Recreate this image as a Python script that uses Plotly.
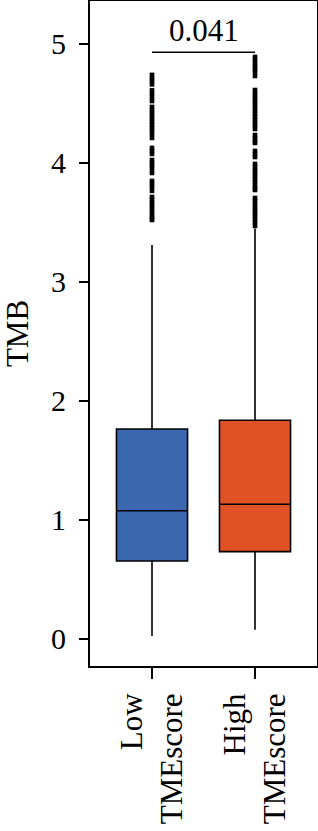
import plotly.graph_objects as go

groups = ["Low<br>TMEscore", "High<br>TMEscore"]
positions = [1, 2]
colors = ["#3B67AF", "#E05226"]
q1 = [0.655, 0.734]
median = [1.078, 1.132]
q3 = [1.765, 1.838]
lower_whisker = [0.025, 0.078]
upper_whisker = [3.31, 3.45]

low_outliers = [4.74, 4.71, 4.69, 4.66,
                4.61, 4.58, 4.55, 4.52,
                4.471, 4.445, 4.420, 4.395, 4.370, 4.345, 4.319, 4.294, 4.269, 4.244, 4.210,
                4.126, 4.101, 4.076,
                4.025, 4.000, 3.975, 3.950, 3.916,
                3.849, 3.824, 3.798, 3.765,
                3.714, 3.689, 3.664, 3.639, 3.613, 3.588, 3.563, 3.538, 3.521]
high_outliers = [4.891, 4.866, 4.840, 4.815, 4.790, 4.765, 4.731,
                 4.613, 4.588, 4.563, 4.538, 4.513, 4.487, 4.462, 4.437, 4.412, 4.387, 4.361, 4.336, 4.311, 4.286,
                 4.235, 4.210, 4.185, 4.168,
                 4.101, 4.076, 4.050,
                 3.992, 3.966, 3.941, 3.916, 3.891, 3.866, 3.840, 3.815, 3.790, 3.773,
                 3.706, 3.681, 3.655, 3.630, 3.605, 3.580, 3.555, 3.529, 3.504, 3.471]

p_value = "0.041"
bracket_y = 4.93
y_ticks = [0, 1, 2, 3, 4, 5]

FONT = "Liberation Serif"

fig = go.Figure()
for i in range(2):
    fig.add_trace(go.Box(
        x=[positions[i]], q1=[q1[i]], median=[median[i]], q3=[q3[i]],
        lowerfence=[lower_whisker[i]], upperfence=[upper_whisker[i]],
        width=0.69, fillcolor=colors[i],
        line=dict(color="black", width=1.6), whiskerwidth=0,
        boxpoints=False, showlegend=False, hoverinfo="skip"))

for pos, vals in zip(positions, [low_outliers, high_outliers]):
    fig.add_trace(go.Scatter(
        x=[pos] * len(vals), y=vals, mode="markers",
        marker=dict(symbol="square", size=4.6, color="black", line=dict(width=0)),
        showlegend=False, hoverinfo="skip"))

fig.add_shape(type="line", x0=positions[0], x1=positions[1], y0=bracket_y, y1=bracket_y,
              xref="x", yref="y", line=dict(color="black", width=1.5))
fig.add_annotation(x=1.5, y=bracket_y, xref="x", yref="y", text=p_value,
                   showarrow=False, yanchor="bottom", yshift=2,
                   font=dict(family=FONT, size=31, color="black"))

fig.update_layout(
    width=318, height=831,
    margin=dict(l=90, r=1, t=1, b=165),
    paper_bgcolor="white", plot_bgcolor="white",
    font=dict(family=FONT, color="black"),
)
fig.update_xaxes(
    range=[0.398, 2.602], tickvals=positions, ticktext=groups,
    tickangle=-90, ticks="outside", ticklen=11, tickwidth=1.5, tickcolor="black",
    showline=True, linewidth=2, linecolor="black", mirror=True,
    showgrid=False, zeroline=False, ticklabelstandoff=2, automargin=False,
    tickfont=dict(family=FONT, size=31, color="black"))
fig.update_yaxes(
    range=[-0.227, 5.361], tickvals=y_ticks,
    ticks="outside", ticklen=9, tickwidth=1.5, tickcolor="black",
    showline=True, linewidth=2, linecolor="black", mirror=True,
    showgrid=False, zeroline=False, ticklabelstandoff=7, automargin=False,
    tickfont=dict(family=FONT, size=30, color="black"),
    title=dict(text="TMB", font=dict(family=FONT, size=31, color="black"), standoff=14))

fig.write_html("out.html")
